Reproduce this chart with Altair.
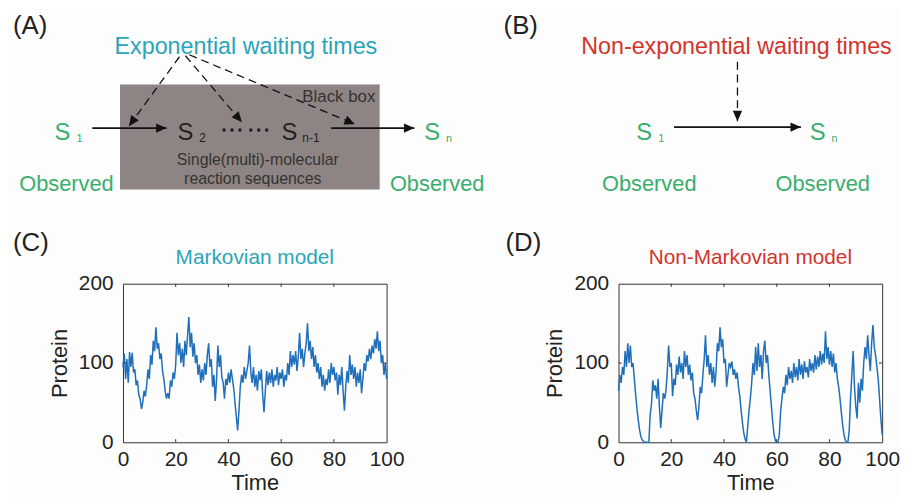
import math
import altair as alt
import pandas as pd

FONT = "Liberation Sans, Arial, Helvetica, sans-serif"
TEAL = "#29a5b8"
RED = "#d2342c"
GREEN = "#3aae6e"
DARK = "#222222"
BOXC = "#8e8483"
BLUE = "#1f6fba"
BG = "#fdfdfd"

# ---------------- time series (panels C and D) ----------------
time_step = 0.5
markov_protein = [
    95, 112, 80, 105, 75, 114, 95, 113, 88, 92, 72,
    78, 60, 55, 42, 50, 65, 58, 72, 92, 80,
    110, 98, 128, 115, 145, 118, 125, 105, 112, 90,
    80, 65, 55, 62, 55, 78, 70, 88, 80, 98,
    138, 110, 125, 100, 118, 95, 128, 110, 135, 158,
    120, 138, 108, 125, 100, 110, 85, 98, 75, 92,
    78, 100, 85, 110, 125, 95, 105, 70, 85, 52,
    80, 122, 95, 110, 82, 75, 55, 80, 72, 88,
    75, 92, 80, 68, 50, 32, 15, 40, 70, 85,
    75, 95, 80, 90, 100, 122, 88, 75, 95, 70,
    85, 65, 90, 78, 92, 60, 38, 65, 90, 72,
    88, 75, 92, 70, 85, 78, 95, 72, 88, 80,
    92, 70, 85, 78, 100, 85, 115, 95, 110, 98,
    115, 90, 108, 138, 105, 118, 95, 112, 125, 150,
    115, 128, 105, 120, 95, 110, 88, 100, 80, 95,
    70, 85, 65, 80, 72, 92, 75, 100, 85, 95,
    78, 88, 60, 85, 72, 95, 65, 40, 70, 90,
    75, 110, 85, 98, 80, 95, 70, 88, 75, 92,
    62, 80, 100, 90, 110, 102, 118, 105, 122, 112,
    130, 118, 140, 115, 128, 100, 110, 85, 100, 80,
]
nonmarkov_protein = [
    65, 85, 75, 95, 85, 115, 95, 125, 100, 122, 95,
    100, 80, 60, 42, 28, 15, 7, 3, 1, 0,
    0, 0, 0, 35, 48, 78, 65, 72, 55, 80,
    45, 18, 40, 62, 55, 65, 90, 122, 95, 100,
    58, 80, 72, 98, 85, 108, 88, 100, 80, 115,
    95, 110, 85, 98, 78, 88, 62, 55, 40, 28,
    45, 70, 62, 85, 105, 135, 95, 110, 85, 100,
    75, 95, 70, 90, 125, 115, 145, 120, 130, 100,
    105, 70, 85, 100, 95, 102, 85, 92, 80, 88,
    70, 58, 40, 25, 12, 4, 0, 20, 40, 55,
    75, 100, 85, 120, 90, 125, 95, 110, 80, 115,
    128, 100, 110, 85, 65, 45, 25, 10, 2, 0,
    0, 10, 40, 55, 70, 62, 85, 72, 95, 80,
    90, 75, 100, 82, 95, 78, 105, 85, 98, 80,
    102, 88, 95, 82, 105, 90, 100, 88, 110, 92,
    108, 95, 115, 98, 112, 100, 140, 105, 120, 98,
    115, 95, 112, 88, 100, 80, 70, 55, 38, 22,
    10, 3, 0, 0, 15, 55, 85, 115, 70, 45,
    30, 75, 50, 80, 65, 100, 120, 105, 135, 110,
    90, 125, 148, 120, 110, 95, 80, 55, 30, 10,
]
time = [i * time_step for i in range(len(markov_protein))]

x_tick_values = [0, 20, 40, 60, 80, 100]
y_tick_values = [0, 100, 200]
inner_x_ticks = [20, 40, 60, 80]
inner_y_ticks = [100]

# ---------------- schematic (panels A and B) ----------------
panel_labels = ["(A)", "(B)"]
panel_label_x = [12, 507]
panel_label_y = [32, 32]

exp_text = ["Exponential waiting times"]
exp_x = [247]
exp_y = [52]
nonexp_text = ["Non-exponential waiting times"]
nonexp_x = [742]
nonexp_y = [52]

obs_state_x = [54, 427, 641, 816]
obs_state_y = [139, 139, 139, 139]
obs_sub = ["1", "n", "1", "n"]
obs_sub_x = [76, 449, 663, 838]
obs_sub_y = [141, 141, 141, 141]

hid_state_x = [178, 283]
hid_state_y = [139, 139]
hid_sub = ["2", "n-1"]
hid_sub_x = [200, 304]
hid_sub_y = [141, 141]

observed_x = [66, 440, 654, 829]
observed_y = [190, 190, 190, 190]

box_x, box_x2, box_y, box_y2 = [120], [382], [83], [189]
blackbox_text, blackbox_x, blackbox_y = ["Black box"], [304], [101]
seq_text = ["Single(multi)-molecular", "reaction sequences"]
seq_x = [259, 254]
seq_y = [164, 183]
dots_x = [225, 233, 241, 252, 260, 268]
dots_y = [129, 129, 129, 129, 129, 129]

solid_x1 = [92, 333, 679]
solid_y1 = [127, 127, 126]
solid_x2 = [167, 417, 807]
solid_y2 = [127, 127, 126]

dash_x1 = [180, 186, 190, 743]
dash_y1 = [55, 54, 53, 60]
dash_x2 = [129, 243, 357, 743]
dash_y2 = [125, 121, 123, 120]

ARROW = "M0,0L-0.9,2L0.9,2Z"


def head_angle(x1, y1, x2, y2):
    return (math.degrees(math.atan2(x2 - x1, -(y2 - y1))) + 360) % 360


# diagram scales: 1 unit = 1 px; origin aligned with panel C plot origin
xs = alt.Scale(domain=[123, 900], nice=False, zero=False)
ys = alt.Scale(domain=[8, 222], nice=False, zero=False, reverse=True)


def XX(f):
    return alt.X(f, type="quantitative", scale=xs, axis=None)


def YY(f):
    return alt.Y(f, type="quantitative", scale=ys, axis=None)


def text_layer(labels, xv, yv, size, color, align="left", weight="normal"):
    df = pd.DataFrame({"label": labels, "x": xv, "y": yv})
    return alt.Chart(df).mark_text(
        align=align, baseline="alphabetic", font=FONT, fontSize=size, color=color,
        fontWeight=weight,
    ).encode(x=XX("x"), y=YY("y"), text="label:N")


box = alt.Chart(pd.DataFrame({"x": box_x, "x2": box_x2, "y": box_y, "y2": box_y2})).mark_rect(
    color=BOXC
).encode(x=XX("x"), x2="x2", y=YY("y"), y2="y2")

solid_df = pd.DataFrame({"x": solid_x1, "y": solid_y1, "x2": solid_x2, "y2": solid_y2})
solid_df["ang"] = [head_angle(a, b, c, d) for a, b, c, d in zip(solid_x1, solid_y1, solid_x2, solid_y2)]
dash_df = pd.DataFrame({"x": dash_x1, "y": dash_y1, "x2": dash_x2, "y2": dash_y2})
dash_df["ang"] = [head_angle(a, b, c, d) for a, b, c, d in zip(dash_x1, dash_y1, dash_x2, dash_y2)]

solid_lines = alt.Chart(solid_df).mark_rule(color="#111111", strokeWidth=1.6).encode(
    x=XX("x"), y=YY("y"), x2="x2", y2="y2"
)
solid_heads = alt.Chart(solid_df).mark_point(
    shape=ARROW, filled=True, color="#111111", opacity=1, size=110, strokeWidth=0
).encode(x=XX("x2"), y=YY("y2"), angle=alt.Angle("ang:Q", scale=None))
dash_lines = alt.Chart(dash_df).mark_rule(color="#111111", strokeWidth=1.3, strokeDash=[8, 5]).encode(
    x=XX("x"), y=YY("y"), x2="x2", y2="y2"
)
dash_heads = alt.Chart(dash_df).mark_point(
    shape=ARROW, filled=True, color="#111111", opacity=1, size=110, strokeWidth=0
).encode(x=XX("x2"), y=YY("y2"), angle=alt.Angle("ang:Q", scale=None))
dots = alt.Chart(pd.DataFrame({"x": dots_x, "y": dots_y})).mark_circle(
    color=DARK, opacity=1, size=13
).encode(x=XX("x"), y=YY("y"))

diagram = alt.layer(
    box,
    text_layer(panel_labels, panel_label_x, panel_label_y, 26, DARK),
    text_layer(exp_text, exp_x, exp_y, 23.5, TEAL, "center"),
    text_layer(nonexp_text, nonexp_x, nonexp_y, 23.5, RED, "center"),
    text_layer(["S"] * len(obs_state_x), obs_state_x, obs_state_y, 24, GREEN),
    text_layer(obs_sub, obs_sub_x, obs_sub_y, 11, GREEN),
    text_layer(["S"] * len(hid_state_x), hid_state_x, hid_state_y, 24, DARK),
    text_layer(hid_sub, hid_sub_x, hid_sub_y, 12, DARK),
    text_layer(["Observed"] * len(observed_x), observed_x, observed_y, 22, GREEN, "center"),
    text_layer(blackbox_text, blackbox_x, blackbox_y, 17, "#333333"),
    text_layer(seq_text, seq_x, seq_y, 16, "#333333", "center"),
    dots,
    solid_lines, solid_heads, dash_lines, dash_heads,
).properties(width=777, height=214, view=alt.ViewBackground(strokeWidth=0))


def panel(values, title, title_color, label, label_dx):
    df = pd.DataFrame({"t": time, "p": values})
    xsc = alt.Scale(domain=[0, 100], nice=False, zero=False)
    ysc = alt.Scale(domain=[0, 200], nice=False, zero=False)
    line = alt.Chart(df).mark_line(color=BLUE, strokeWidth=1.5).encode(
        x=alt.X("t:Q", scale=xsc, axis=alt.Axis(values=x_tick_values, title="Time",
                                                labelPadding=6, titlePadding=4)),
        y=alt.Y("p:Q", scale=ysc, axis=alt.Axis(values=y_tick_values, title="Protein",
                                                labelPadding=10, titlePadding=7)),
    )
    tx = pd.DataFrame({"t": inner_x_ticks * 2,
                       "y1": [0] * len(inner_x_ticks) + [200] * len(inner_x_ticks),
                       "y2": [4] * len(inner_x_ticks) + [196] * len(inner_x_ticks)})
    xticks = alt.Chart(tx).mark_rule(color="#333333", strokeWidth=1).encode(
        x=alt.X("t:Q", scale=xsc), y=alt.Y("y1:Q", scale=ysc), y2="y2"
    )
    ty = pd.DataFrame({"p": inner_y_ticks * 2,
                       "x1": [0] * len(inner_y_ticks) + [100] * len(inner_y_ticks),
                       "x2": [1.2] * len(inner_y_ticks) + [98.8] * len(inner_y_ticks)})
    yticks = alt.Chart(ty).mark_rule(color="#333333", strokeWidth=1).encode(
        y=alt.Y("p:Q", scale=ysc), x=alt.X("x1:Q", scale=xsc), x2="x2"
    )
    ttl = alt.Chart(pd.DataFrame({"s": [title]})).mark_text(
        align="center", baseline="alphabetic", font=FONT, fontSize=21, color=title_color
    ).encode(text="s:N", x=alt.value(133), y=alt.value(-20))
    lab = alt.Chart(pd.DataFrame({"s": [label]})).mark_text(
        align="left", baseline="alphabetic", font=FONT, fontSize=26, color=DARK
    ).encode(text="s:N", x=alt.value(label_dx), y=alt.value(-33))
    return alt.layer(line, xticks, yticks, ttl, lab).properties(
        width=266, height=160, view=alt.ViewBackground(stroke="#333333", strokeWidth=1)
    )


pc = panel(markov_protein, "Markovian model", TEAL, "(C)", -111)
pd_ = panel(nonmarkov_protein, "Non-Markovian model", RED, "(D)", -114)

chart = alt.vconcat(
    diagram,
    alt.hconcat(pc, pd_, spacing=100),
    spacing=7,
).configure(
    padding={"left": 4, "top": 0, "right": 0, "bottom": 0},
    background=BG,
    font=FONT,
).configure_view(strokeWidth=0).configure_axis(
    grid=False, domain=False, ticks=False, tickSize=0,
    labelFont=FONT, labelFontSize=21, labelColor=DARK, labelFlush=False,
    titleFont=FONT, titleFontSize=22, titleFontWeight="normal", titleColor=DARK,
)

chart.save("out.html", embed_options={"renderer": "svg", "actions": False})
